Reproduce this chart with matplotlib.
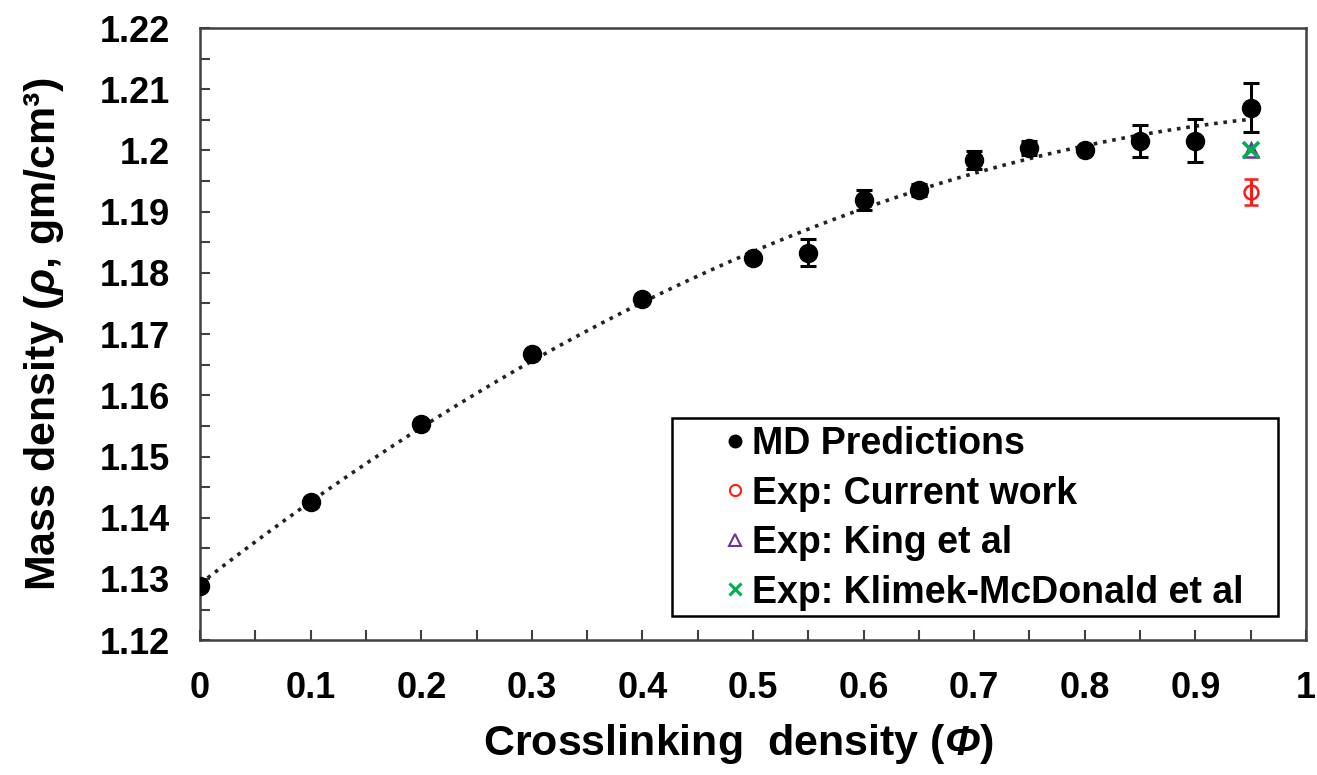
import matplotlib
matplotlib.use("Agg")
import matplotlib.pyplot as plt
import numpy as np
from matplotlib.lines import Line2D
from matplotlib.patches import Rectangle
from matplotlib.legend_handler import HandlerLine2D
from matplotlib.ticker import MultipleLocator, FuncFormatter

plt.rcParams['font.family'] = ['Liberation Sans', 'DejaVu Sans']
plt.rcParams['font.weight'] = 'bold'
plt.rcParams['mathtext.fontset'] = 'custom'
plt.rcParams['mathtext.rm'] = 'Liberation Sans:bold'
# bold-italic greek symbols in the axis labels
plt.rcParams['mathtext.bf'] = 'Liberation Sans:italic:bold'

# MD predictions: crosslinking density vs mass density
phi = [0, 0.1, 0.2, 0.3, 0.4, 0.5, 0.55, 0.6, 0.65, 0.7, 0.75, 0.8, 0.85, 0.9, 0.95]
rho = [1.1288, 1.1425, 1.1553, 1.1667, 1.1758, 1.1825, 1.1833, 1.1919, 1.1935,
       1.1984, 1.2004, 1.2001, 1.2016, 1.2016, 1.2070]
rho_err = [0.0004, 0.0006, 0.0006, 0.0006, 0.0005, 0.0004, 0.0022, 0.0017, 0.0010,
           0.0015, 0.0012, 0.0005, 0.0026, 0.0035, 0.0040]

# experimental values
exp_phi = [0.95]
exp_current = [1.1932]
exp_current_err = [0.0021]
exp_king = [1.2000]
exp_klimek = [1.2000]

RED = '#FF1A1A'
PURPLE = '#7030A0'
GREEN = '#00B050'


class RightMarker(HandlerLine2D):
    # single marker drawn near the right end of the handle box
    def get_xdata(self, legend, xdescent, ydescent, width, height, fontsize):
        m = -xdescent + width - 0.25 * fontsize
        return np.array([m - 0.5, m + 0.5]), np.array([m])


fig = plt.figure(figsize=(13.17, 7.75), dpi=100)
ax = fig.add_axes([0.152, 0.174, 0.8396, 0.7898])

# second order trendline through the MD points
coef = np.polyfit(phi, rho, 2)
xs = np.linspace(0, 0.95, 200)
ax.plot(xs, np.polyval(coef, xs), color='#222222', linestyle=(0, (1, 1.6)), linewidth=2.6, zorder=2)

ax.errorbar(phi, rho, yerr=rho_err, fmt='o', color='black', markersize=13,
            ecolor='black', elinewidth=2.2, capsize=6, capthick=2.2, zorder=3)
ax.errorbar(exp_phi, exp_current, yerr=exp_current_err, fmt='o', color=RED,
            mfc='none', mec=RED, mew=1.8, markersize=10, elinewidth=2.2,
            capsize=5, capthick=2.2, zorder=4)
ax.plot(exp_phi, exp_king, '^', mfc='none', mec=PURPLE, mew=1.8, markersize=10,
        linestyle='none', zorder=4)
ax.plot(exp_phi, exp_klimek, 'x', color=GREEN, mew=2.6, markersize=11,
        linestyle='none', zorder=5)

ax.set_xlim(0, 1)
ax.set_ylim(1.12, 1.22)
ax.xaxis.set_major_locator(MultipleLocator(0.1))
ax.xaxis.set_minor_locator(MultipleLocator(0.05))
ax.yaxis.set_major_locator(MultipleLocator(0.01))
ax.yaxis.set_minor_locator(MultipleLocator(0.005))
fmt = FuncFormatter(lambda v, p: '{:g}'.format(round(v, 3)))
ax.xaxis.set_major_formatter(fmt)
ax.yaxis.set_major_formatter(fmt)

ax.tick_params(which='both', direction='in', top=False, right=False, color='#404040',
               width=1.5, length=7)
ax.tick_params(which='major', labelsize=26, pad=22)
for s in ax.spines.values():
    s.set_color('#404040')
    s.set_linewidth(1.8)

ax.set_xlabel(r'Crosslinking  density ($\mathbf{\Phi}$)', fontsize=31, fontweight='bold', labelpad=12)
ax.xaxis.label.set_x(0.487)
ax.set_ylabel(r'Mass density ($\mathbf{\rho}$, gm/cm³)', fontsize=31, fontweight='bold', labelpad=24)

handles = [
    Line2D([], [], marker='o', color='black', linestyle='none', markersize=9),
    Line2D([], [], marker='o', mfc='none', mec=RED, mew=1.5, linestyle='none', markersize=8),
    Line2D([], [], marker='^', mfc='none', mec=PURPLE, mew=1.5, linestyle='none', markersize=8),
    Line2D([], [], marker='x', color=GREEN, mew=2.2, linestyle='none', markersize=8),
]
labels = ['MD Predictions', 'Exp: Current work', 'Exp: King et al', 'Exp: Klimek-McDonald et al']

# legend box, wider than the entries
ax.add_patch(Rectangle((0.4268, 0.0392), 0.5479, 0.3235, transform=ax.transAxes,
                       facecolor='white', edgecolor='black', linewidth=1.8, zorder=6))
leg = ax.legend(handles, labels, loc='upper left', bbox_to_anchor=(0.438, 0.3497),
                fontsize=27, frameon=False, handlelength=1.6, handletextpad=0.2,
                labelspacing=0.36, borderpad=0, borderaxespad=0,
                handler_map={Line2D: RightMarker(numpoints=1)})
leg.set_zorder(7)
for t in leg.get_texts():
    t.set_fontweight('bold')

fig.savefig('out.png', dpi=100)
